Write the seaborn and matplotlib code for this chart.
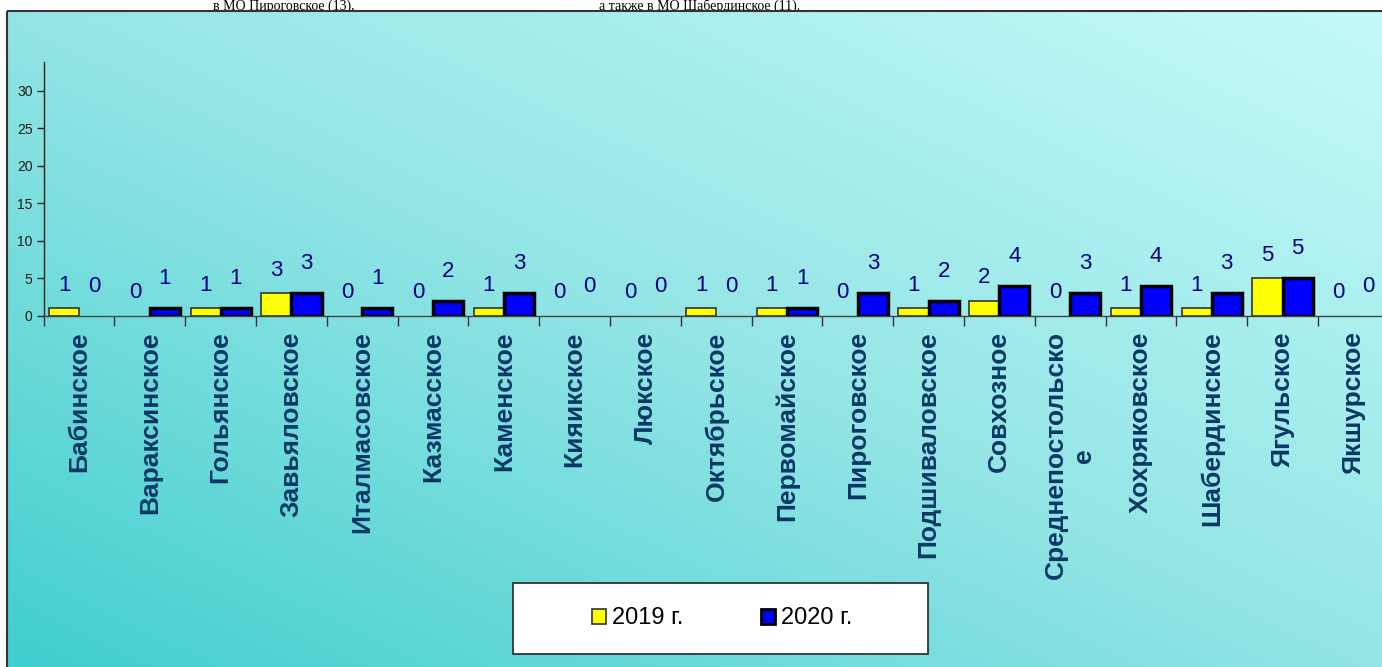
import numpy as np
import pandas as pd
import matplotlib
matplotlib.use("Agg")
import matplotlib.pyplot as plt
import seaborn as sns
from matplotlib.patches import Rectangle, Patch

# ---------------- data ----------------
categories = ["Бабинское", "Вараксинское", "Гольянское", "Завьяловское",
              "Италмасовское", "Казмасское", "Каменское", "Кияикское",
              "Люкское", "Октябрьское", "Первомайское", "Пироговское",
              "Подшиваловское", "Совхозное", "Среднепостольско\nе",
              "Хохряковское", "Шабердинское", "Ягульское", "Якшурское"]
values_2019 = [1, 0, 1, 3, 0, 0, 1, 0, 0, 1, 1, 0, 1, 2, 0, 1, 1, 5, 0]
values_2020 = [0, 1, 1, 3, 1, 2, 3, 0, 0, 0, 1, 3, 2, 4, 3, 4, 3, 5, 0]
series = ["2019 г.", "2020 г."]
y_ticks = [0, 5, 10, 15, 20, 25, 30]
top_text_left = "в МО Пироговское (13),"
top_text_right = "а также в МО Шабердинское (11)."

plt.rcParams['font.family'] = ['Liberation Sans', 'DejaVu Sans']

W, H = 1382, 667
fig = plt.figure(figsize=(W / 100, H / 100), dpi=100)
fig.patch.set_facecolor("white")

# ---------------- background (chart area gradient) ----------------
ax_bg = fig.add_axes([0, 0, 1, 1], zorder=-10)
ax_bg.set_xlim(0, W)
ax_bg.set_ylim(H, 0)
ax_bg.axis("off")
ax_bg.text(355, 9.5, top_text_left, ha="right", va="baseline", fontsize=10,
           family="Liberation Serif", color="black", zorder=1)
ax_bg.text(800, 9.5, top_text_right, ha="right", va="baseline", fontsize=10,
           family="Liberation Serif", color="black", zorder=1)

box_l, box_t = 7, 11
gw, gh = W - box_l, H - box_t
xs = np.linspace(0, 1, gw)
ys = np.linspace(0, 1, gh)
t = 0.5 * (xs[None, :] + (1 - ys[:, None]))
stops = [0.0, 0.5, 1.0]
c_stops = np.array([[64, 206, 206], [148, 229, 229], [196, 250, 250]]) / 255.0
img = np.zeros((gh, gw, 3))
for ch in range(3):
    img[..., ch] = np.interp(t, stops, c_stops[:, ch])
ax_bg.imshow(img, extent=(box_l, W, H, box_t), origin="upper", aspect="auto", zorder=2)
ax_bg.add_patch(Rectangle((box_l, box_t), W, H, fill=False, edgecolor="#333333",
                          lw=1.5, zorder=3))

# ---------------- main bars ----------------
df = pd.DataFrame({
    "region": categories * 2,
    "year": [series[0]] * len(categories) + [series[1]] * len(categories),
    "value": values_2019 + values_2020,
})

ax = fig.add_axes([43.7 / W, (H - 316) / H, 1345 / W, (316 - 61.7) / H], zorder=1)
ax.patch.set_alpha(0)

sns.barplot(data=df, x="region", y="value", hue="year", order=categories,
            hue_order=series, palette=["#FFFF00", "#0000FF"], width=0.85,
            saturation=1, errorbar=None, legend=False, ax=ax)

vals = [values_2019, values_2020]
pads = [9, 14]
for i, cont in enumerate(ax.containers):
    for p in cont:
        if i == 0:
            p.set_edgecolor("#333333")
            p.set_linewidth(1.2)
        else:
            p.set_edgecolor("black")
            p.set_linewidth(2.5)
        if p.get_height() == 0:
            p.set_linewidth(0)
    ax.bar_label(cont, labels=[str(v) for v in vals[i]], padding=pads[i],
                 color="#000080", fontsize=16)

ax.set_xlim(-0.5, len(categories) - 0.5)
ax.set_ylim(0, 33.9)
ax.set_xlabel("")
ax.set_ylabel("")

ax.set_yticks(y_ticks)
ax.set_yticklabels([str(v) for v in y_ticks], fontsize=10, color="#1a1a1a")
ax.tick_params(axis="y", direction="out", length=5, width=1, color="#222222", pad=3)

ax.set_xticks(range(len(categories)))
ax.set_xticklabels(categories, rotation=90, fontsize=19, fontweight="bold",
                   color="#083766", va="top", ha="center")
ax.set_xticks(np.arange(-0.5, len(categories), 1), minor=True)
ax.tick_params(axis="x", which="major", length=0, pad=11)
ax.tick_params(axis="x", which="minor", length=7, width=1, color="#333333")

for s in ["top", "right"]:
    ax.spines[s].set_visible(False)
ax.spines["left"].set_color("#222222")
ax.spines["left"].set_linewidth(1)
ax.spines["bottom"].set_color("#444444")
ax.spines["bottom"].set_linewidth(1)

# ---------------- legend ----------------
fig.add_artist(Rectangle((513 / W, 1 - 654 / H), 415 / W, 71 / H,
                         transform=fig.transFigure, facecolor="white",
                         edgecolor="#333333", lw=1.3, zorder=5))
handles = [Patch(facecolor="#FFFF00", edgecolor="#333333", lw=1.2),
           Patch(facecolor="#0000FF", edgecolor="black", lw=2)]
leg = fig.legend(handles, series, loc="center",
                 bbox_to_anchor=(722 / W, 1 - 618.5 / H), ncol=2, frameon=False,
                 fontsize=17, handlelength=0.6, handleheight=0.6,
                 handletextpad=0.25, columnspacing=3.3)
leg.set_zorder(6)

fig.savefig("out.png", dpi=100)
